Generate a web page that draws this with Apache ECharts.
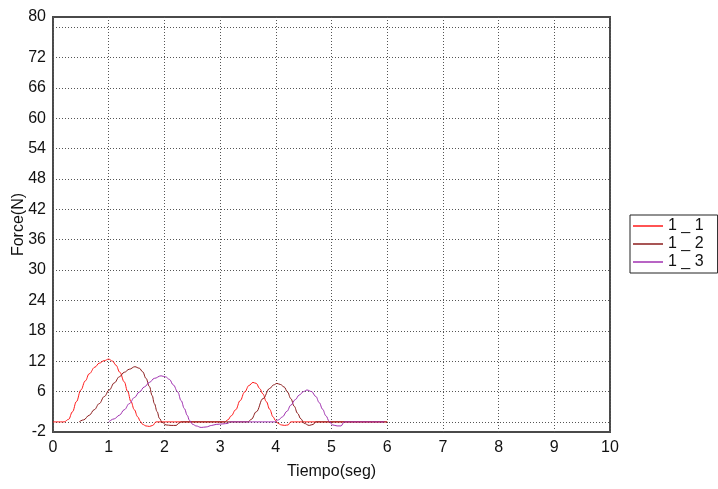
<!DOCTYPE html>
<html>
<head>
<meta charset="utf-8">
<script src="https://cdn.jsdelivr.net/npm/echarts@6/dist/echarts.min.js"></script>
<style>html,body{margin:0;padding:0;background:#fff;}#c{width:718px;height:489px;}</style>
</head>
<body>
<div id="c"></div>
<script>
// Series names
const seriesNames = ['1 _ 1', '1 _ 2', '1 _ 3'];
// Time (s) and force (N) for each series
const t1 = [0, 0.2, 0.28, 0.35, 0.42, 0.5, 0.58, 0.65, 0.75, 0.83, 0.92, 1.0, 1.07, 1.13, 1.2, 1.28, 1.34, 1.4, 1.46, 1.52, 1.57, 1.61, 1.67, 1.73, 1.79, 1.85, 3.08, 3.14, 3.2, 3.28, 3.36, 3.44, 3.52, 3.59, 3.65, 3.71, 3.77, 3.83, 3.89, 3.95, 4.0, 4.04, 4.1, 4.16, 4.22, 4.27, 6.0];
const f1 = [0, 0, 0.5, 2.0, 4.0, 6.3, 8.1, 9.5, 10.8, 11.6, 12.1, 12.4, 12.0, 11.2, 9.8, 7.9, 6.0, 4.0, 2.4, 1.0, 0.1, -0.5, -0.8, -0.9, -0.7, 0, 0, 0.4, 1.2, 2.4, 4.2, 5.9, 7.2, 7.8, 7.6, 6.6, 5.5, 4.0, 2.5, 1.0, 0.2, -0.3, -0.6, -0.7, -0.6, 0, 0];
const t2 = [0.47, 0.55, 0.65, 0.74, 0.83, 0.92, 1.01, 1.1, 1.19, 1.28, 1.37, 1.47, 1.55, 1.61, 1.67, 1.73, 1.78, 1.82, 1.87, 1.91, 1.96, 2.03, 2.12, 2.21, 2.27, 2.3, 3.5, 3.56, 3.65, 3.77, 3.89, 3.96, 4.02, 4.08, 4.15, 4.21, 4.27, 4.33, 4.39, 4.45, 4.51, 4.6, 4.67, 4.72, 6.0];
const f2 = [0, 0.4, 1.3, 2.4, 3.6, 5.0, 6.3, 7.7, 8.9, 9.8, 10.4, 10.9, 10.6, 9.9, 8.6, 7.0, 5.2, 3.6, 2.0, 0.7, -0.1, -0.6, -0.7, -0.7, -0.2, 0, 0, 0.5, 2.0, 4.6, 6.6, 7.3, 7.6, 7.4, 6.9, 5.9, 4.6, 3.1, 1.7, 0.6, -0.3, -0.7, -0.5, 0, 0];
const t3 = [1.0, 1.1, 1.19, 1.28, 1.37, 1.46, 1.55, 1.64, 1.73, 1.82, 1.94, 2.02, 2.09, 2.16, 2.24, 2.3, 2.36, 2.41, 2.45, 2.51, 2.57, 2.66, 2.75, 2.85, 2.93, 3.05, 3.14, 3.18, 3.98, 4.05, 4.12, 4.2, 4.27, 4.35, 4.42, 4.5, 4.56, 4.64, 4.72, 4.78, 4.84, 4.9, 4.96, 5.02, 5.1, 5.17, 5.23, 5.95];
const f3 = [0, 0.6, 1.3, 2.4, 3.6, 4.8, 5.9, 6.9, 7.8, 8.6, 9.1, 8.9, 8.4, 7.3, 5.9, 4.2, 2.6, 1.3, 0.3, -0.5, -0.8, -1.1, -1.0, -0.7, -0.5, -0.4, -0.3, 0, 0, 0.4, 1.0, 2.1, 3.3, 4.4, 5.3, 6.0, 6.3, 6.0, 5.0, 3.8, 2.5, 1.2, 0.1, -0.6, -0.8, -0.8, 0, 0];
// Axis ticks
const xTicks = [0, 1, 2, 3, 4, 5, 6, 7, 8, 9, 10];
const yGridValues = [0, 6, 12, 18, 24, 30, 36, 42, 48, 54, 60, 66, 72, 78];
const yLabelValues = [-2, 6, 12, 18, 24, 30, 36, 42, 48, 54, 60, 66, 72, 80];

const colors = ['#ff1a1a', '#8b1c1c', '#a030b0'];
const zip = (t, f) => t.map((x, i) => [x, f[i]]);
const data = [zip(t1, f1), zip(t2, f2), zip(t3, f3)];

const chart = echarts.init(document.getElementById('c'), null, {renderer: 'canvas'});
const font = 'Arial, "Liberation Sans", sans-serif';
chart.setOption({
  animation: false,
  backgroundColor: '#fff',
  grid: {left: 53, right: 108, top: 17, bottom: 57, show: true, borderColor: '#4a4a4a', borderWidth: 2,
         backgroundColor: 'transparent', containLabel: false, outerBoundsMode: 'none'},
  legend: {
    orient: 'vertical', left: 630, top: 215,
    data: seriesNames,
    icon: 'rect',
    borderColor: '#222', borderWidth: 1,
    padding: [2, 14, 2, 3],
    itemWidth: 30, itemHeight: 1.5, itemGap: 0,
    textStyle: {fontFamily: font, fontSize: 16, color: '#111', lineHeight: 18}
  },
  xAxis: {
    type: 'value', min: xTicks[0], max: xTicks[xTicks.length - 1], interval: 1,
    name: 'Tiempo(seg)', nameLocation: 'middle', nameGap: 32, nameMoveOverlap: false,
    nameTextStyle: {fontFamily: font, fontSize: 16, color: '#111'},
    axisLine: {show: false}, axisTick: {show: false},
    axisLabel: {fontFamily: font, fontSize: 16, color: '#111', margin: 8},
    splitLine: {show: true, lineStyle: {color: '#555', type: [1, 2], width: 1}}
  },
  yAxis: {
    type: 'value', min: -2, max: 80,
    name: 'Force(N)', nameLocation: 'middle', nameGap: 26, nameMoveOverlap: false,
    nameTextStyle: {fontFamily: font, fontSize: 16, color: '#111'},
    axisLine: {show: false},
    axisTick: {show: false, customValues: yGridValues},
    axisLabel: {fontFamily: font, fontSize: 16, color: '#111', margin: 7, customValues: yLabelValues},
    splitLine: {show: true, lineStyle: {color: '#555', type: [1, 2], width: 1}}
  },
  series: data.map((d, i) => ({
    name: seriesNames[i], type: 'line', data: d,
    symbol: 'none', smooth: 0.4, smoothMonotone: 'x',
    lineStyle: {color: colors[i], width: 1},
    itemStyle: {color: colors[i]}
  }))
});
</script>
</body>
</html>
